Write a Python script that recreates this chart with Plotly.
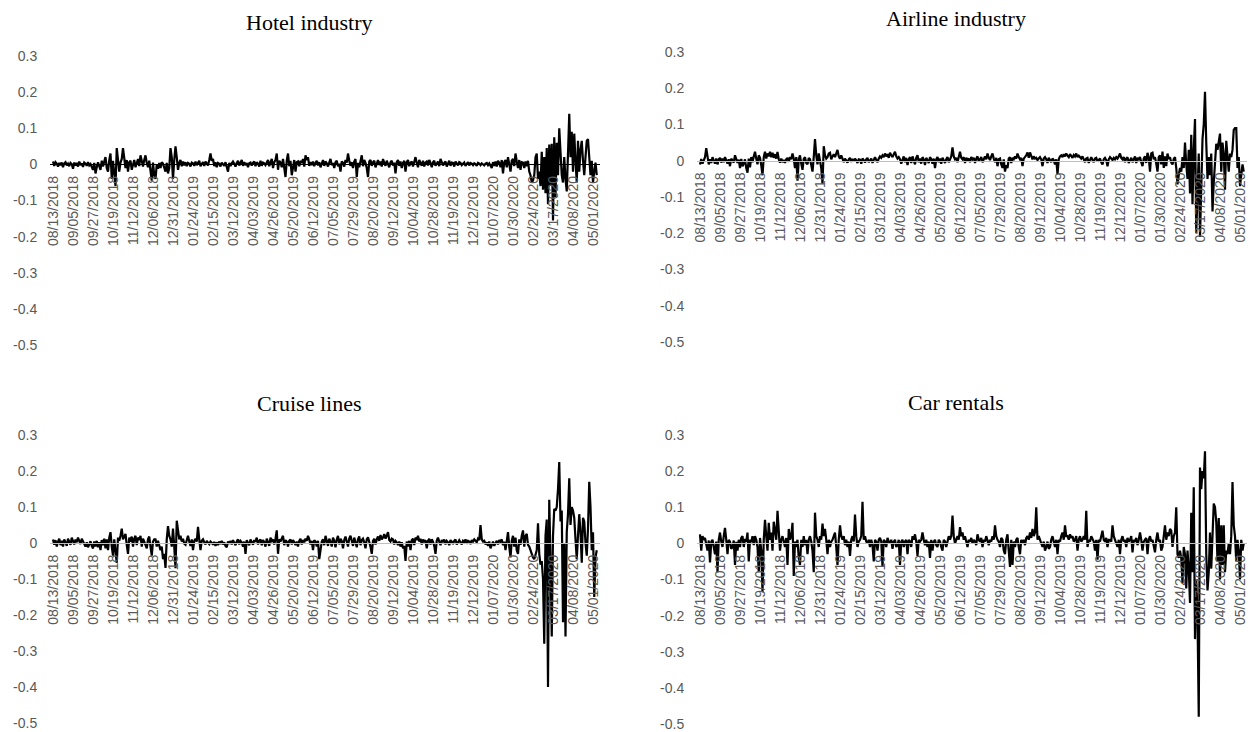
import plotly.graph_objects as go

W, H = 1256, 732

tick_labels = ["08/13/2018", "09/05/2018", "09/27/2018", "10/19/2018", "11/12/2018", "12/06/2018",
               "12/31/2018", "01/24/2019", "02/15/2019", "03/12/2019", "04/03/2019", "04/26/2019",
               "05/20/2019", "06/12/2019", "07/05/2019", "07/29/2019", "08/20/2019", "09/12/2019",
               "10/04/2019", "10/28/2019", "11/19/2019", "12/12/2019", "01/07/2020", "01/30/2020",
               "02/24/2020", "03/17/2020", "04/08/2020", "05/01/2020"]
tick_step = 16  # trading days between labelled dates

y_ticks = [0.3, 0.2, 0.1, 0, -0.1, -0.2, -0.3, -0.4, -0.5]
y_tick_text = ["0.3", "0.2", "0.1", "0", "-0.1", "-0.2", "-0.3", "-0.4", "-0.5"]

titles = ["Hotel industry", "Airline industry", "Cruise lines", "Car rentals"]

hotel = [
    0.008, -0.004, 0.006, 0.002, -0.006, 0.004, -0.002, 0.005, -0.008, 0.003, 0.006, -0.003, 0.002, -0.005, 0.004, 0.001,
    -0.012, 0.005, -0.003, 0.004, -0.006, 0.008, -0.002, 0.003, -0.007, 0.005, 0.002, -0.004, 0.006, -0.003, 0.001, -0.01,
    -0.015, 0.004, -0.025, -0.008, 0.006, -0.005, -0.015, 0.01, -0.006, 0.008, 0.02, -0.01, -0.02, 0.012, 0.03, -0.04,
    0.01, -0.025, -0.06, 0.045, 0.01, -0.02, 0.005, 0.015, 0.045, 0.008, -0.01, 0.012, -0.02, 0.006, 0.01, -0.015,
    0.004, 0.012, -0.008, 0.006, 0.015, -0.005, 0.025, 0.01, -0.006, 0.012, 0.025, 0.004, -0.008, 0.01, -0.02, -0.045,
    0.005, -0.03, -0.04, 0.0, -0.012, 0.004, -0.01, 0.006, 0.002, -0.008, -0.02, 0.004, -0.025, -0.01, 0.045, 0.02,
    -0.04, 0.012, 0.05, 0.02, -0.015, 0.004, 0.012, -0.005, 0.008, -0.003, 0.006, -0.005, 0.004, 0.002, -0.006, 0.005,
    0.003, -0.004, 0.008, -0.002, 0.004, 0.01, -0.005, 0.003, 0.006, -0.004, 0.008, 0.002, -0.003, 0.012, 0.03, 0.01,
    0.015, -0.005, 0.006, -0.008, 0.004, 0.002, -0.006, 0.005, 0.001, -0.004, 0.006, -0.008, -0.02, 0.004, -0.005, 0.003,
    0.008, 0.002, -0.006, 0.004, 0.01, -0.003, 0.005, 0.012, -0.004, 0.006, -0.002, 0.004, -0.008, 0.003, 0.005, -0.003,
    0.004, 0.008, -0.005, 0.006, 0.002, -0.006, 0.01, -0.004, 0.005, 0.003, -0.002, 0.007, 0.012, -0.005, 0.008, 0.015,
    -0.01, 0.006, 0.012, 0.03, -0.015, 0.01, 0.005, -0.008, 0.015, -0.01, -0.035, 0.01, 0.03, -0.005, 0.01, -0.03,
    -0.01, 0.012, -0.02, 0.006, 0.008, -0.005, 0.01, 0.004, 0.015, -0.006, 0.025, 0.012, 0.02, -0.004, 0.006, -0.002,
    0.008, -0.005, 0.004, 0.01, -0.003, 0.006, -0.008, 0.002, 0.012, -0.004, 0.008, 0.003, -0.006, 0.005, 0.015, -0.002,
    0.004, -0.01, 0.006, 0.01, -0.005, 0.002, -0.02, 0.008, 0.004, -0.006, 0.012, 0.005, 0.03, 0.01, -0.004, 0.006,
    -0.01, 0.008, 0.015, -0.035, 0.004, -0.008, 0.01, 0.025, -0.005, 0.012, 0.004, -0.01, -0.035, 0.008, 0.012, -0.004,
    0.006, 0.01, -0.008, 0.004, 0.012, -0.002, 0.008, -0.006, 0.015, 0.004, -0.004, 0.01, 0.003, -0.008, 0.006, 0.01,
    -0.003, 0.005, -0.025, 0.006, 0.012, -0.004, 0.008, -0.01, 0.004, 0.01, -0.02, 0.006, 0.012, -0.005, 0.004, 0.008,
    -0.006, 0.01, 0.02, 0.004, -0.008, 0.012, 0.006, -0.004, 0.01, -0.006, 0.005, 0.008, -0.003, 0.012, 0.004, -0.008,
    0.006, 0.01, -0.004, 0.002, 0.008, -0.005, 0.015, 0.006, -0.003, 0.004, 0.008, -0.006, 0.003, 0.01, -0.004, 0.005,
    0.004, -0.006, 0.008, 0.002, -0.003, 0.006, 0.004, -0.002, 0.003, 0.005, -0.004, 0.002, 0.006, -0.003, 0.004, 0.002,
    -0.002, 0.003, 0.001, -0.004, 0.004, 0.002, -0.002, 0.003, 0.001, -0.003, 0.002, 0.004, -0.002, 0.003, -0.004, -0.01,
    0.006, -0.004, 0.008, -0.006, 0.01, 0.004, -0.008, 0.012, -0.025, 0.006, 0.012, -0.008, 0.02, 0.004, -0.02, 0.01,
    0.015, -0.005, 0.03, 0.008, -0.01, 0.012, -0.015, 0.006,
    0.005, -0.01, 0.008, -0.005, 0.01, -0.02, -0.03, -0.05, -0.045, -0.03, 0.02, 0.03, -0.04, -0.02, -0.06, 0.035,
    -0.07, 0.02, -0.08, 0.045, -0.11, 0.055, -0.06, 0.057, -0.155, 0.075, -0.09, 0.06, -0.03, 0.1, 0.04, -0.03,
    -0.05, 0.02, -0.04, -0.075, 0.03, 0.14, 0.02, 0.09, -0.02, 0.085, 0.01, -0.05, 0.065, -0.02, 0.04, 0.065,
    0.01, -0.03, 0.02, 0.065, 0.07, 0.02, -0.03, 0.01, -0.05, -0.02, 0.005, -0.03,
]

airline = [
    -0.01, 0.005, -0.008, 0.004, 0.01, 0.035, 0.008, -0.01, 0.004, -0.006, 0.01, 0.002, -0.008, 0.006, -0.01, 0.004,
    0.008, -0.005, 0.006, -0.004, 0.01, 0.002, -0.008, 0.004, -0.015, 0.006, 0.002, -0.005, 0.015, 0.004, -0.006, 0.003,
    -0.02, 0.005, -0.015, -0.008, 0.004, -0.02, -0.033, 0.006, -0.018, 0.01, -0.004, 0.012, 0.025, 0.006, -0.01, 0.015,
    0.008, -0.012, -0.04, 0.01, 0.025, 0.006, 0.02, 0.012, 0.025, 0.01, 0.022, 0.008, 0.018, 0.006, 0.024, 0.004,
    -0.005, 0.006, -0.004, 0.002, -0.006, 0.004, 0.008, -0.003, 0.01, 0.004, 0.02, 0.006, -0.02, 0.01, -0.055, 0.004,
    0.015, -0.008, -0.025, 0.005, 0.01, -0.006, -0.01, 0.008, 0.004, -0.012, -0.03, 0.01, 0.06, 0.015, -0.01, 0.02,
    0.004, -0.02, -0.063, 0.04, 0.015, 0.006, 0.01, 0.02, 0.022, 0.004, 0.012, 0.018, 0.01, 0.02, 0.03, 0.012,
    0.006, 0.015, 0.004, -0.004, 0.006, 0.002, -0.005, 0.004, 0.008, -0.003, 0.005, -0.002, 0.006, 0.001, -0.006, 0.004,
    0.003, -0.008, 0.006, 0.002, -0.005, 0.004, 0.008, -0.004, 0.002, 0.006, -0.006, 0.004, 0.01, 0.002, -0.004, 0.006,
    0.012, 0.008, 0.015, 0.01, 0.02, 0.012, 0.018, 0.008, 0.022, 0.015, 0.01, 0.018, 0.025, 0.012, 0.006, 0.01,
    0.004, -0.008, 0.006, 0.012, -0.004, 0.008, -0.012, 0.004, 0.01, -0.006, 0.012, 0.002, -0.01, 0.008, 0.015, -0.004,
    0.006, -0.008, 0.01, 0.004, -0.012, 0.008, 0.002, -0.006, 0.01, 0.004, -0.008, 0.006, -0.02, 0.004, 0.01, -0.004,
    0.006, -0.008, 0.008, 0.002, -0.006, 0.004, 0.01, -0.004, 0.006, 0.012, 0.037, 0.012, 0.004, 0.008, -0.004, 0.01,
    0.025, 0.008, 0.004, 0.01, -0.006, 0.008, 0.002, 0.006, -0.004, 0.01, 0.004, 0.008, -0.006, 0.006, 0.012, -0.002,
    0.004, 0.01, -0.004, 0.006, 0.012, 0.004, 0.02, 0.008, 0.002, 0.012, 0.02, 0.006, -0.004, 0.008, -0.015, 0.004,
    0.006, -0.01, -0.02, 0.004, -0.03, -0.012, -0.02, 0.006, 0.01, -0.006, 0.008, 0.004, 0.012, 0.006, 0.02, 0.01,
    0.004, 0.008, -0.015, 0.006, 0.01, 0.015, 0.023, 0.008, 0.023, 0.01, 0.004, 0.012, 0.006, 0.008, 0.002, 0.006,
    0.01, 0.004, -0.015, 0.006, 0.01, 0.004, -0.006, 0.008, 0.002, -0.004, 0.006, 0.002, -0.01, 0.004, -0.037, 0.004,
    0.012, 0.015, 0.01, 0.018, 0.012, 0.02, 0.014, 0.01, 0.018, 0.012, 0.008, 0.016, 0.012, 0.02, 0.01, 0.014,
    0.01, 0.006, 0.012, 0.004, -0.004, 0.006, 0.008, -0.006, 0.004, 0.01, 0.002, -0.004, 0.006, 0.008, -0.002, 0.004,
    0.006, -0.004, -0.01, 0.004, 0.008, 0.002, -0.015, 0.004, 0.01, 0.006, 0.002, 0.008, 0.004, 0.01, 0.006, 0.012,
    0.02, 0.008, 0.004, 0.01, -0.004, 0.006, 0.01, -0.006, 0.004, 0.008, -0.004, 0.006, 0.012, -0.006, 0.008, 0.004,
    0.01, -0.004, -0.015, 0.006, 0.012, -0.006, 0.022, 0.01, -0.03, 0.02, 0.022, 0.004, 0.01, -0.008, -0.03, 0.01,
    0.015, -0.01, 0.025, -0.02, 0.012, -0.015, 0.02, 0.005, 0.01, -0.005, -0.01, 0.005,
    0.01, -0.02, -0.065, -0.04, -0.02, -0.03, 0.01, -0.02, 0.05, -0.01, -0.05, 0.03, -0.09, 0.072, -0.12, 0.03,
    0.115, -0.2, -0.05, 0.02, -0.21, -0.04, 0.06, 0.1, 0.19, 0.05, -0.05, 0.01, -0.04, 0.02, -0.14, -0.06,
    0.01, 0.047, 0.03, 0.06, 0.075, -0.03, 0.05, 0.02, -0.08, 0.055, 0.01, -0.03, 0.02, 0.01, 0.03, 0.085,
    0.09, 0.09, -0.02, 0.01, -0.07, -0.04, -0.01, -0.03,
]

cruise = [
    0.01, -0.005, 0.008, -0.01, 0.004, 0.012, -0.006, 0.006, -0.01, 0.01, 0.002, -0.008, 0.012, 0.004, -0.005, 0.015,
    0.006, -0.004, 0.01, 0.002, 0.015, 0.008, -0.003, 0.012, 0.004, -0.006, -0.01, 0.002, -0.012, -0.004, 0.005, -0.008,
    -0.015, 0.004, -0.01, 0.006, -0.012, 0.002, -0.02, 0.008, -0.006, 0.012, -0.015, 0.01, -0.02, 0.015, 0.03, -0.01,
    -0.035, 0.01, -0.02, -0.055, 0.015, 0.006, 0.02, 0.04, 0.01, 0.02, 0.025, -0.005, -0.03, 0.015, 0.004, 0.018,
    -0.01, 0.012, 0.02, -0.006, 0.015, 0.008, 0.02, -0.01, 0.012, 0.004, -0.008, -0.015, 0.01, 0.018, -0.01, -0.035,
    0.004, 0.01, 0.01, -0.01, 0.006, -0.005, -0.02, -0.01, -0.045, -0.03, -0.069, 0.01, 0.047, 0.02, 0.01, -0.01,
    0.04, -0.01, -0.07, 0.062, 0.03, 0.01, 0.02, 0.004, 0.012, -0.002, -0.005, 0.008, 0.02, 0.004, -0.008, 0.01,
    -0.02, 0.006, 0.012, 0.004, 0.045, 0.01, -0.02, 0.006, 0.01, 0.002, -0.004, 0.006, 0.002, -0.003, 0.004, 0.001,
    -0.005, 0.003, -0.008, 0.002, -0.006, 0.004, -0.003, 0.006, -0.004, 0.002, -0.008, -0.012, 0.004, -0.002, 0.006, -0.004,
    0.008, 0.002, -0.006, 0.004, 0.01, -0.004, 0.006, 0.002, -0.01, 0.004, -0.03, 0.008, 0.002, -0.006, 0.01, 0.004,
    -0.005, 0.008, 0.004, 0.015, -0.004, 0.006, 0.01, -0.006, 0.008, 0.002, -0.01, 0.012, 0.004, -0.008, 0.015, 0.006,
    0.01, -0.004, 0.012, 0.035, -0.03, 0.01, 0.004, 0.012, 0.02, -0.006, 0.008, 0.004, -0.01, 0.006, 0.01, -0.004,
    0.008, 0.002, -0.006, 0.004, -0.01, 0.006, 0.012, -0.004, 0.008, 0.002, 0.012, 0.006, 0.02, 0.01, -0.004, 0.006,
    -0.02, 0.008, 0.004, -0.01, 0.006, -0.045, -0.02, 0.004, 0.01, -0.006, 0.02, 0.008, -0.008, 0.012, 0.004, -0.01,
    0.015, 0.006, -0.012, 0.01, 0.02, -0.004, 0.012, 0.006, -0.015, 0.008, 0.018, 0.004, -0.01, 0.012, 0.02, 0.006,
    -0.008, 0.015, 0.004, -0.012, 0.01, 0.018, -0.006, 0.008, 0.012, 0.002, -0.015, 0.01, 0.016, 0.004, -0.01, -0.03,
    0.006, 0.012, -0.004, 0.01, 0.018, 0.006, 0.022, 0.01, 0.015, 0.025, 0.012, 0.02, 0.03, 0.008, 0.004, 0.012,
    0.01, -0.004, 0.006, 0.002, -0.006, 0.004, -0.01, 0.002, -0.015, -0.008, -0.05, 0.004, -0.01, 0.006, -0.02, 0.008,
    0.012, -0.006, 0.015, 0.008, 0.02, 0.004, 0.012, -0.004, 0.01, 0.002, 0.008, -0.015, 0.006, 0.012, -0.004, 0.01,
    0.004, -0.008, -0.03, 0.006, 0.015, 0.004, -0.006, 0.008, 0.002, 0.01, -0.004, 0.006, 0.002, -0.006, 0.008, 0.004,
    -0.003, 0.006, 0.01, -0.004, 0.004, 0.008, 0.002, -0.004, 0.006, 0.002, 0.01, -0.002, 0.006, 0.004, -0.003, 0.008,
    0.004, 0.01, 0.006, 0.002, 0.012, 0.008, 0.05, 0.01, 0.004, 0.006, -0.004, 0.002, -0.008, 0.004, -0.015, -0.006,
    0.004, -0.008, 0.002, 0.006, -0.004, 0.008, 0.004, 0.01, -0.006, 0.004, -0.02, 0.01, 0.03, -0.01, -0.04, 0.006,
    0.02, -0.01, 0.015, -0.02, -0.03, 0.01, -0.005, 0.02, 0.035, -0.01, 0.02, 0.025,
    -0.005, -0.01, -0.02, -0.035, -0.04, -0.045, -0.03, -0.02, 0.055, -0.03, -0.06, -0.05, -0.1, -0.28, 0.02, 0.065,
    -0.4, 0.12, -0.05, -0.26, 0.02, 0.095, 0.09, 0.1, 0.15, 0.225, 0.06, 0.09, -0.22, 0.0, -0.26, 0.03,
    0.08, 0.18, 0.05, 0.1, 0.09, 0.07, 0.01, -0.045, 0.02, 0.08, 0.03, -0.055, 0.07, 0.06, 0.0, -0.035,
    0.04, 0.17, 0.1, -0.02, 0.03, -0.15, -0.04, -0.02,
]

car = [
    0.025, -0.02, 0.02, 0.01, 0.015, -0.005, -0.02, 0.008, -0.053, 0.004, 0.01, -0.01, -0.03, 0.005, -0.08, 0.01,
    0.03, 0.005, -0.01, 0.02, 0.043, 0.01, -0.03, 0.01, 0.005, -0.015, -0.01, 0.008, -0.06, 0.004, -0.02, 0.01,
    -0.01, 0.015, 0.02, -0.01, 0.012, 0.005, 0.03, -0.05, 0.01, 0.004, 0.02, -0.005, 0.02, 0.01, -0.01, -0.08,
    0.015, -0.02, -0.135, 0.01, 0.065, 0.02, -0.02, 0.057, 0.01, 0.03, -0.02, 0.06, 0.03, 0.01, 0.09, 0.02,
    -0.02, 0.01, 0.02, 0.005, -0.01, 0.015, -0.06, 0.04, 0.01, 0.02, 0.057, -0.09, 0.005, -0.01, 0.01, -0.04,
    -0.06, 0.01, -0.01, 0.02, -0.005, 0.01, -0.03, 0.01, 0.02, 0.005, -0.02, -0.08, 0.085, 0.02, 0.01, -0.01,
    0.02, 0.01, 0.055, 0.02, 0.04, 0.01, -0.03, 0.01, -0.01, 0.005, 0.01, 0.02, 0.03, -0.01, -0.06, 0.01,
    0.05, 0.02, 0.01, 0.02, -0.005, 0.01, -0.01, 0.005, -0.035, 0.01, 0.02, 0.005, 0.08, 0.02, -0.01, 0.005,
    0.01, 0.02, 0.115, 0.01, 0.02, 0.005, 0.0, 0.01, -0.01, 0.01, -0.005, -0.05, 0.01, 0.005, -0.02, 0.01,
    0.015, 0.005, -0.065, 0.01, 0.005, -0.01, 0.015, 0.005, 0.0, 0.01, -0.015, 0.005, 0.01, -0.01, -0.005, 0.01,
    -0.06, 0.005, 0.01, -0.01, 0.005, 0.01, -0.03, 0.01, 0.005, -0.01, 0.02, 0.01, 0.025, 0.005, -0.035, 0.01,
    0.005, 0.01, 0.03, 0.01, -0.005, 0.01, -0.01, 0.005, -0.04, 0.01, -0.02, 0.005, 0.01, -0.005, -0.01, 0.01,
    0.005, -0.01, -0.02, 0.01, 0.005, -0.01, 0.005, 0.02, 0.01, 0.02, 0.077, 0.02, 0.0, 0.01, 0.02, 0.01,
    0.045, 0.02, 0.03, 0.01, 0.02, 0.005, -0.01, 0.01, 0.005, 0.015, 0.0, 0.01, 0.005, -0.005, 0.025, 0.01,
    0.005, 0.015, -0.01, 0.01, 0.005, 0.02, 0.01, -0.005, 0.01, 0.005, 0.02, 0.01, 0.05, 0.02, 0.01, 0.005,
    -0.01, 0.015, 0.01, -0.02, -0.03, 0.01, 0.025, -0.02, -0.065, 0.01, -0.06, 0.005, -0.01, 0.01, 0.015, -0.01,
    -0.03, 0.01, 0.0, 0.01, -0.005, 0.015, 0.02, 0.01, 0.03, 0.015, 0.04, 0.02, 0.03, 0.1, 0.01, 0.02,
    0.01, 0.005, -0.01, 0.005, -0.02, -0.01, 0.005, -0.015, -0.01, 0.01, 0.02, 0.005, -0.01, 0.01, -0.03, 0.01,
    0.005, 0.02, 0.03, 0.01, 0.05, 0.02, 0.02, 0.01, 0.025, 0.015, 0.02, 0.005, 0.01, 0.02, -0.02, 0.01,
    0.02, 0.005, 0.01, 0.02, 0.01, 0.09, -0.01, 0.01, 0.005, 0.02, 0.01, 0.005, -0.02, 0.01, -0.045, 0.01,
    0.005, 0.02, 0.035, 0.01, 0.005, 0.015, -0.01, 0.01, 0.01, 0.005, 0.05, 0.02, 0.01, 0.005, -0.01, 0.01,
    -0.03, 0.01, 0.02, 0.005, 0.01, -0.01, 0.015, 0.005, 0.01, 0.02, -0.025, 0.01, 0.005, 0.015, -0.005, 0.01,
    0.03, 0.01, -0.02, 0.005, 0.01, 0.015, -0.03, 0.01, 0.02, 0.005, 0.01, -0.01, -0.025, 0.01, 0.03, 0.005,
    0.01, -0.02, -0.01, 0.02, 0.05, 0.01, 0.03, 0.02, 0.04, 0.035, -0.01, 0.02, 0.03, 0.1, -0.03, -0.04,
    -0.02, -0.04, -0.11, -0.01, -0.03, -0.125, -0.02, -0.07, -0.165, 0.085, -0.08, 0.155, -0.265, -0.1, -0.2, -0.48,
    0.21, 0.15, 0.2, 0.18, 0.255, -0.03, -0.13, -0.08, 0.03, -0.07, 0.02, 0.11, 0.1, 0.06, -0.05, 0.07,
    -0.1, 0.05, -0.06, 0.05, -0.08, -0.02, -0.03, 0.0, -0.03, 0.02, 0.17, 0.05, 0.02, -0.05, 0.01, -0.02,
    -0.1, 0.01, -0.02, 0.0,
]

series = [hotel, airline, cruise, car]

# ---- layout geometry (pixels) ----
Y_MIN, Y_MAX = -0.5, 0.3
PX_PER_DAY = 1.25
panels = [
    # first point x, plot-area left/right, y-pixel of 0.3 and -0.5, title centre, axis-line colour
    dict(x0=53, left=50, right=600, top=56, bottom=345, title=(309, 22), line="#000000"),
    dict(x0=700, left=697, right=1247, top=52, bottom=342, title=(956, 18), line="#bfbfbf"),
    dict(x0=53, left=50, right=600, top=435, bottom=723, title=(309, 403), line="#bfbfbf"),
    dict(x0=700, left=697, right=1247, top=435, bottom=724, title=(956, 402), line="#bfbfbf"),
]

TICK_FONT = dict(family="Liberation Sans, Arial, sans-serif", size=14, color="#595959")
TITLE_FONT = dict(family="Liberation Serif, Times New Roman, serif", size=22, color="#000000")

fig = go.Figure()
layout = dict(
    width=W, height=H,
    margin=dict(l=0, r=0, t=0, b=0, autoexpand=False),
    paper_bgcolor="white", plot_bgcolor="white",
    showlegend=False,
    annotations=[],
)

tickvals = [i * tick_step for i in range(len(tick_labels))]

for k, (p, ys, title) in enumerate(zip(panels, series, titles)):
    n = k + 1
    xa = "xaxis" if n == 1 else f"xaxis{n}"
    ya = "yaxis" if n == 1 else f"yaxis{n}"
    xref = "x" if n == 1 else f"x{n}"
    yref = "y" if n == 1 else f"y{n}"

    xd = [p["left"] / W, p["right"] / W]
    yd = [1 - p["bottom"] / H, 1 - p["top"] / H]
    xr = [(p["left"] - p["x0"]) / PX_PER_DAY, (p["right"] - p["x0"]) / PX_PER_DAY]
    zero_pos = yd[0] + (0 - Y_MIN) / (Y_MAX - Y_MIN) * (yd[1] - yd[0])

    fig.add_trace(go.Scatter(
        x=list(range(len(ys))), y=ys, mode="lines",
        line=dict(color="#000000", width=2.2),
        xaxis=xref, yaxis=yref, hoverinfo="skip",
    ))

    layout[xa] = dict(
        domain=xd, range=xr, anchor="free", position=zero_pos,
        tickmode="array", tickvals=tickvals, ticktext=tick_labels,
        tickangle=-90, tickfont=TICK_FONT, automargin=False,
        ticklabeloverflow="allow",
        ticks="outside", ticklen=5, tickcolor="rgba(0,0,0,0)",
        showline=True, linecolor=p["line"], linewidth=1,
        showgrid=False, zeroline=False, fixedrange=True,
    )
    layout[ya] = dict(
        domain=yd, range=[Y_MIN, Y_MAX], anchor=xref,
        tickmode="array", tickvals=y_ticks, ticktext=y_tick_text,
        tickfont=TICK_FONT, automargin=False,
        ticklabeloverflow="allow",
        ticks="outside", ticklen=9, tickcolor="rgba(0,0,0,0)",
        showline=False, showgrid=False, zeroline=False, fixedrange=True,
    )
    tx, ty = p["title"]
    layout["annotations"].append(dict(
        text=title, x=tx / W, y=1 - ty / H, xref="paper", yref="paper",
        xanchor="center", yanchor="middle", showarrow=False, font=TITLE_FONT,
    ))

fig.update_layout(**layout)
fig.write_html(
    "out.html",
    config={"displayModeBar": False},
    post_script="document.body.style.margin='0px';document.body.style.padding='0px';"
                "document.documentElement.style.overflow='hidden';",
)
